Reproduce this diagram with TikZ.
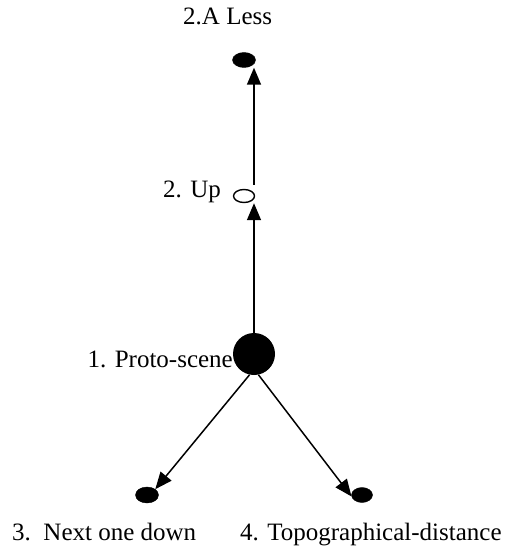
\documentclass[tikz,border=0pt]{standalone}
\usepackage{fontspec}
\setmainfont{Liberation Serif}
\usetikzlibrary{arrows.meta,shapes.geometric,calc}
\begin{document}
\begin{tikzpicture}[x=1pt,y=-1pt,
  lbl/.style={inner sep=0pt,font=\fontsize{25}{29}\selectfont},
  dotfill/.style={ellipse,fill=black,draw=black,inner sep=0pt},
  dotopen/.style={ellipse,draw=black,line width=1.4pt,fill=white,inner sep=0pt},
  arr/.style={line width=1.5pt,-{Triangle[length=17pt,width=14pt]}}]
\path[use as bounding box] (0,0) rectangle (505,548);
% nodes
\node[circle,fill=black,minimum size=42pt,inner sep=0pt] (proto) at (254,354) {};
\node[dotopen,minimum width=21pt,minimum height=13pt] (up) at (244,196) {};
\node[dotfill,minimum width=23pt,minimum height=15pt] (less) at (244,60) {};
\node[dotfill,minimum width=23pt,minimum height=16pt] (next) at (147,495) {};
\node[dotfill,minimum width=21pt,minimum height=15pt] (topo) at (362,495) {};
% labels
\node[lbl,anchor=base west] (lless) at (183,25) {2.A Less};
\node[lbl,anchor=base west] (lup) at (163,197) {2. Up};
\node[lbl,anchor=base east] (lproto) at (233,367) {1. Proto-scene};
\node[lbl,anchor=base west] (lnext) at (12,540) {3.\ \ Next one down};
\node[lbl,anchor=base west] (ltopo) at (240,540) {4. Topographical-distance};
% connectors
\draw[arr] (proto.north) -- (proto.north |- up.south);
\draw[arr] ($(proto.north |- up.north)+(0,-4)$) -- (proto.north |- less.south);
\draw[arr] (proto.-102) -- (next.north east);
\draw[arr] (proto.-78) -- (topo.188);
\end{tikzpicture}
\end{document}
